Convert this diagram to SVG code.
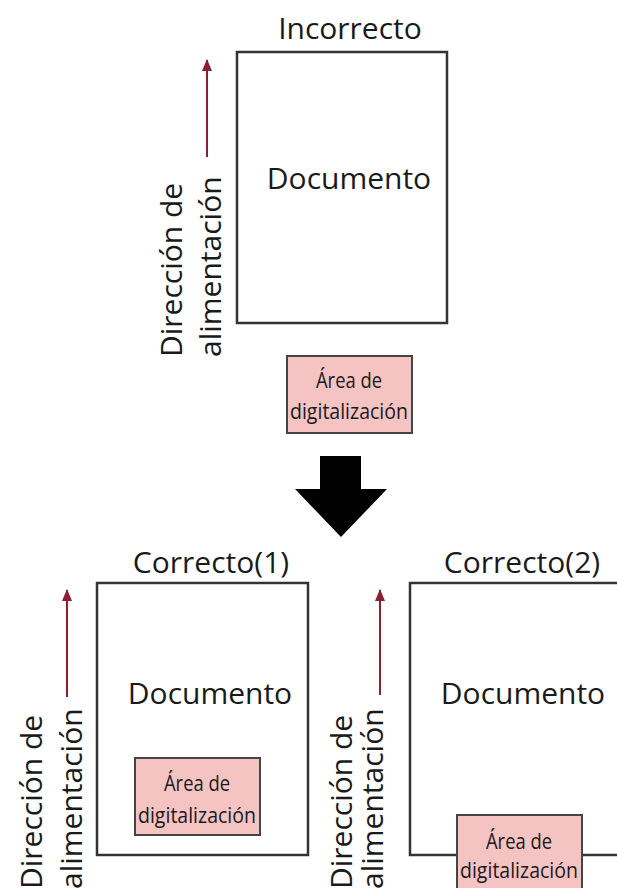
<svg xmlns="http://www.w3.org/2000/svg" width="617" height="888" viewBox="0 0 617 888">
<style>
.doc{fill:#fff;stroke:#333;stroke-width:2.5}
.scan{fill:#f6c3c3;stroke:#444;stroke-width:2}
.t{font-family:"Open Sans","DejaVu Sans",sans-serif;font-size:30px;fill:#1a1a1a}
.ts{font-family:"Open Sans","DejaVu Sans",sans-serif;font-size:21px;fill:#1a1a1a;text-anchor:middle}
.feed{stroke:#8b2030;stroke-width:2;fill:none;marker-end:url(#ah)}
</style>
<defs>
<marker id="ah" markerWidth="12" markerHeight="10" refX="11" refY="5" orient="auto" markerUnits="userSpaceOnUse" viewBox="0 0 12 10">
<path d="M0,0 L12,5 L0,10 Z" fill="#8b2030"/>
</marker>
</defs>
<rect width="617" height="888" fill="#fff"/>

<g id="incorrecto">
<text class="t" x="350" y="39" text-anchor="middle">Incorrecto</text>
<rect class="doc" x="237" y="52" width="210" height="271"/>
<text class="t" x="349" y="189" text-anchor="middle">Documento</text>
<text class="t" transform="translate(182,357) rotate(-90)">Dirección de</text>
<text class="t" transform="translate(221,357) rotate(-90)">alimentación</text>
</g>
<g id="scan-top">
<rect class="scan" x="287" y="356" width="125" height="77"/>
<text class="ts" x="349" y="388" textLength="66" lengthAdjust="spacingAndGlyphs">Área de</text>
<text class="ts" x="349" y="419" textLength="118" lengthAdjust="spacingAndGlyphs">digitalización</text>
</g>

<g id="correcto1">
<text class="t" x="211" y="573" text-anchor="middle">Correcto(1)</text>
<rect class="doc" x="97" y="583" width="211" height="272"/>
<text class="t" x="210" y="704" text-anchor="middle">Documento</text>
<text class="t" transform="translate(42,889) rotate(-90)">Dirección de</text>
<text class="t" transform="translate(82,889) rotate(-90)">alimentación</text>
</g>
<g id="scan-1">
<rect class="scan" x="135" y="758" width="125" height="77"/>
<text class="ts" x="197" y="791" textLength="66" lengthAdjust="spacingAndGlyphs">Área de</text>
<text class="ts" x="197" y="823" textLength="118" lengthAdjust="spacingAndGlyphs">digitalización</text>
</g>

<g id="correcto2">
<text class="t" x="522" y="573" text-anchor="middle">Correcto(2)</text>
<path class="doc" d="M625,583 H410 V855 H625"/>
<text class="t" x="523" y="704" text-anchor="middle">Documento</text>
<text class="t" transform="translate(352,889) rotate(-90)">Dirección de</text>
<text class="t" transform="translate(383,889) rotate(-90)">alimentación</text>
</g>
<g id="scan-2">
<rect class="scan" x="457" y="815" width="125" height="80"/>
<text class="ts" x="519" y="849" textLength="66" lengthAdjust="spacingAndGlyphs">Área de</text>
<text class="ts" x="519" y="878" textLength="118" lengthAdjust="spacingAndGlyphs">digitalización</text>
</g>

<g id="connectors">
<line class="feed" x1="207" y1="157" x2="207" y2="60"/>
<line class="feed" x1="67" y1="697" x2="67" y2="590"/>
<line class="feed" x1="380" y1="695" x2="380" y2="590"/>
<path d="M320,456 H361 V489 H387 L341,537 L295,489 H320 Z" fill="#000"/>
</g>
</svg>
